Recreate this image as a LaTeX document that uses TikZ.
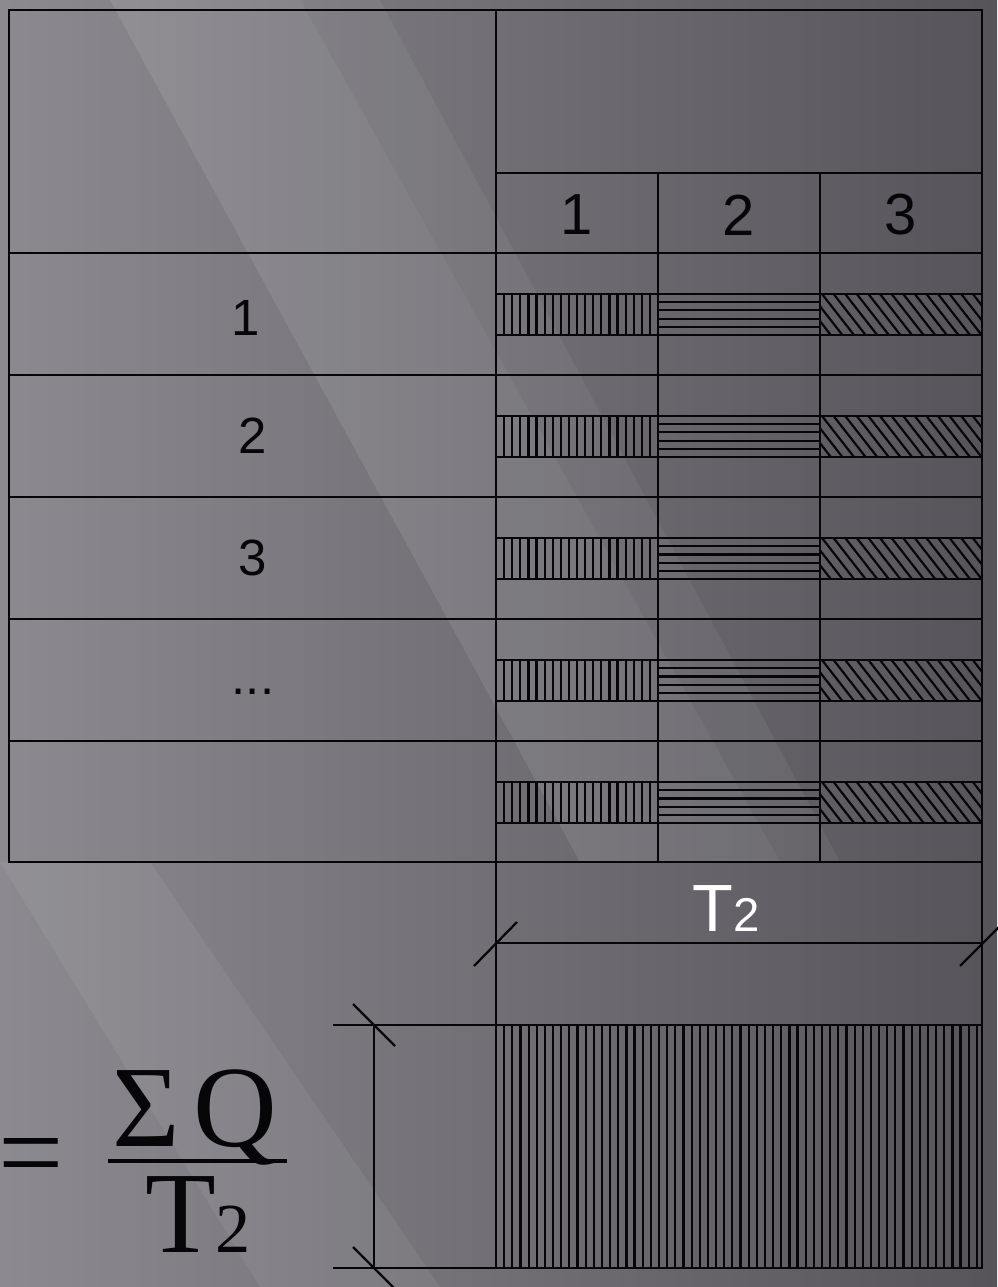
\documentclass[tikz,border=0pt]{standalone}
\usepackage{fontspec}
\setmainfont{Liberation Serif}
\newfontfamily\cadfont{Liberation Sans}
\usetikzlibrary{calc}
\definecolor{bglight}{HTML}{8C8A90}
\definecolor{bgdark}{HTML}{56545A}
\definecolor{ink}{HTML}{060608}
\tikzset{
  grid/.style  ={draw=ink, line width=1.5pt},
  hatch/.style ={draw=ink, line width=1.25pt},
  dim/.style   ={draw=ink, line width=1.5pt},
  tick/.style  ={draw=ink, line width=1.3pt},
  streak/.style={fill=white, draw=none},
  num/.style   ={font=\cadfont\fontsize{33}{33}\selectfont, text=ink, inner sep=0pt},
  lbl/.style   ={font=\cadfont\fontsize{29}{29}\selectfont, text=ink, inner sep=0pt},
  dimtxt/.style={font=\cadfont\fontsize{38}{38}\selectfont, text=white, inner sep=0pt},
  frm/.style   ={font=\fontsize{66}{66}\selectfont, text=ink, inner sep=0pt},
}

\begin{document}
\begin{tikzpicture}[x=0.02cm,y=-0.02cm]
  % one unit = one pixel of the sheet, y runs downwards
  \useasboundingbox (0,0) rectangle (997,1287);
  \shade[left color=bglight, right color=bgdark] (0,0) rectangle (997,1287);
  \fill[streak, opacity=0.09] (110,0) -- (300,0) -- (780,862) -- (580,862) -- cycle;
  \fill[streak, opacity=0.05] (300,0) -- (380,0) -- (840,862) -- (780,862) -- cycle;
  \fill[streak, opacity=0.06] (0,862) -- (150,862) -- (440,1287) -- (260,1287) -- cycle;

  \def\xl{9}      % left edge
  \def\xm{496}    % split of the two tables
  \def\xr{982}    % right edge
  \def\dy{122}    % row height

  % ---------------- table frame ----------------------------------------------
  \draw[grid] (\xl,10) rectangle (\xm,862);
  \draw[grid] (\xm,10) rectangle (\xr,862);
  \draw[grid] (\xm,173) -- (\xr,173);
  \foreach \y in {253,375,497,619,741} \draw[grid] (\xl,\y) -- (\xr,\y);
  \foreach \x in {658,820} \draw[grid] (\x,173) -- (\x,862);

  % ---------------- bars, one per row ----------------------------------------
  \foreach \r in {0,...,4} {
    \pgfmathsetmacro\ya{294+\dy*\r}
    \pgfmathsetmacro\yb{\ya+41}
    \draw[grid] (\xm,\ya) -- (\xr,\ya);
    \draw[grid] (\xm,\yb) -- (\xr,\yb);
    % column 1: vertical hatching
    \foreach \k in {1,...,19} \draw[hatch] (\xm+8.1*\k,\ya) -- (\xm+8.1*\k,\yb);
    % column 2: horizontal hatching
    \foreach \k in {1,...,4} \draw[hatch] (658,\ya+8.2*\k) -- (820,\ya+8.2*\k);
    % column 3: diagonal hatching
    \begin{scope}
      \clip (820,\ya) rectangle (\xr,\yb);
      \foreach \k in {-3,...,14} \draw[hatch] (822+11.6*\k,\ya) -- ++(32,41);
    \end{scope}
  }

  % ---------------- labels ---------------------------------------------------
  \node[num] (h1) at (577,215) {1};
  \node[num] (h2) at (739,215) {2};
  \node[num] (h3) at (901,215) {3};
  \node[lbl] (r1) at (246,318) {1};
  \node[lbl] (r2) at (253,436) {2};
  \node[lbl] (r3) at (253,558) {3};
  \node[lbl] (r4) at (253,692) {...};

  % ---------------- duration T2 ----------------------------------------------
  \draw[dim] (\xm,862) -- (\xm,1268);
  \draw[dim] (\xr,862) -- (\xr,1268);
  \draw[dim] (\xm,943) -- (\xr,943);
  \draw[tick] (474,966) -- (517,922);
  \draw[tick] (960,966) -- (1004,922);
  \node[dimtxt,anchor=base] (t2) at (726,931) {T{\fontsize{27}{27}\selectfont 2}};

  % ---------------- intensity block ------------------------------------------
  \draw[grid] (\xm,1025) rectangle (\xr,1268);
  \foreach \k in {1,...,59} \draw[hatch] (\xm+8.15*\k,1025) -- (\xm+8.15*\k,1268);
  \draw[dim] (333,1025) -- (\xm,1025);
  \draw[dim] (333,1268) -- (\xm,1268);
  \draw[dim] (374,1025) -- (374,1268);
  \draw[tick] (353,1004) -- (395,1046);
  \draw[tick] (353,1247) -- (395,1289);

  % ---------------- formula --------------------------------------------------
  \node[frm,anchor=east] (eq) at (64,1165) {=};
  \node[frm,anchor=base] (numr) at (195,1146) {Σ\hspace{8pt}Q};
  \node[frm,anchor=base] (denr) at (198,1252) {T{\fontsize{40}{40}\selectfont 2}};
  \draw[ink, line width=2.4pt] (108,1161) -- (287,1161);
\end{tikzpicture}
\end{document}
